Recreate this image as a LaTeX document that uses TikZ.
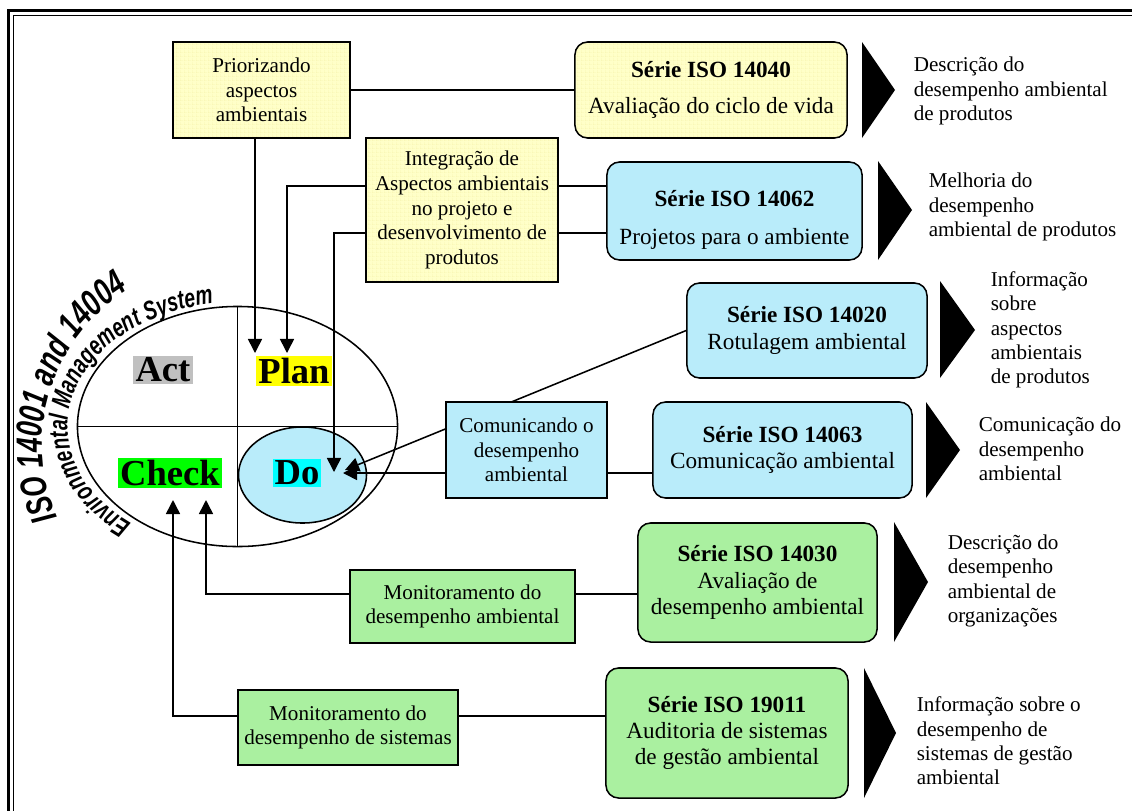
\documentclass[tikz,border=0pt]{standalone}
\usepackage{fontspec}
\setmainfont{Liberation Serif}
\setsansfont{Liberation Sans}
\newfontfamily\titlefont{Liberation Sans}[FakeStretch=0.72]
\usetikzlibrary{arrows.meta, shapes.geometric, positioning, calc,
                decorations.text, patterns.meta}

\definecolor{paleyellow}{RGB}{255,255,200}
\definecolor{gridyellow}{RGB}{236,230,140}
\definecolor{paleblue}{RGB}{185,236,250}
\definecolor{palegreen}{RGB}{170,240,160}
\definecolor{actgray}{RGB}{192,192,192}
\definecolor{planyellow}{RGB}{255,255,0}
\definecolor{checkgreen}{RGB}{0,255,0}
\definecolor{docyan}{RGB}{0,255,255}

\tikzdeclarepattern{
  name=boxgrid, type=uncolored,
  bounding box={(0,0) and (2.85pt,2.85pt)},
  tile size={(2.85pt,2.85pt)},
  code={\draw[line width=0.4pt] (0,0) -- (2.85pt,0) (0,0) -- (0,2.85pt);}
}

\tikzset{
  sqbox/.style={draw, rectangle, inner sep=2pt, align=center,
    font=\fontsize{15}{17.6}\selectfont},
  isobox/.style={sqbox, rounded corners=9pt,
    font=\fontsize{16.5}{18.6}\selectfont},
  yellowfill/.style={preaction={fill=paleyellow}, pattern=boxgrid,
    pattern color=gridyellow},
  infotext/.style={anchor=west, inner sep=0pt, align=left,
    font=\fontsize{15}{17.3}\selectfont},
  pdcalabel/.style={inner sep=1.5pt, font=\fontsize{26}{28}\selectfont\bfseries},
  arr/.style={-{Triangle[length=10pt,width=10pt]}},
}

\begin{document}
\begin{tikzpicture}[x=0.025cm, y=-0.025cm, line width=1.1pt]
  \useasboundingbox (0,0) rectangle (1132,810);
  % double frame
  \draw[line width=1.7pt] (8.5,10.5) rectangle (1145,840);
  \draw[line width=0.9pt] (13.5,15.5) rectangle (1140,840);

  % PDCA circle
  \node[draw, ellipse, inner sep=0, minimum width=8cm, minimum height=6cm]
    (pdca) at (237.5,426.5) {};
  \draw (pdca.north) -- (pdca.south);
  \draw (pdca.west) -- (pdca.east);
  \node[draw, ellipse, fill=paleblue, inner sep=0, minimum width=3.2cm,
    minimum height=2.4cm] (doell) at (302.5,475) {};
  \node[pdcalabel, fill=actgray] (act) at (163,370) {Act};
  \node[pdcalabel, fill=planyellow] (plan) at (294,371) {Plan};
  \node[pdcalabel, fill=checkgreen] (check) at (170,473) {Check};
  \node[pdcalabel, fill=docyan] (do) at (297,473) {Do};

  % curved titles round the circle
  \coordinate (titlec) at (240,445);
  \path[decorate, decoration={text along path, text align=center,
      text={|\titlefont\bfseries\itshape\fontsize{26}{26}\selectfont|ISO 14001 and 14004}}]
    (titlec) ++(154:198 and 188)
    arc[start angle=154, end angle=239, x radius=198, y radius=188];
  \path[decorate, decoration={text along path, text align=center,
      text={|\titlefont\bfseries\itshape\fontsize{19}{19}\selectfont|Environmental Management System}}]
    (pdca.center) ++(124:170 and 124)
    arc[start angle=124, end angle=266, x radius=170, y radius=124];

  % arrow ends
  \coordinate (plantipa) at (255,353);
  \coordinate (plantipb) at (287,353);
  \coordinate (dotipa) at (334,472);
  \coordinate (dotipb) at (343,473);
  \coordinate (dotipc) at (345,470);
  \coordinate (checktipa) at (173,500);
  \coordinate (checktipb) at (206,500);

  % planning boxes
  \node[sqbox, yellowfill, minimum width=4.425cm, minimum height=2.4cm]
    (prio) at (261.5,90) {Priorizando\\aspectos\\ambientais};
  \node[sqbox, yellowfill, minimum width=4.8cm, minimum height=3.6cm]
    (integ) at (462,210) {Integração de\\Aspectos ambientais\\no projeto e\\desenvolvimento de\\produtos};

  % ISO series
  \node[isobox, yellowfill, minimum width=6.8cm, minimum height=2.4cm]
    (iso40) at (711,90) {\textbf{Série ISO 14040}\\[7pt]Avaliação do ciclo de vida};
  \node[isobox, fill=paleblue, minimum width=6.375cm, minimum height=2.45cm]
    (iso62) at (734.5,211) {\rule{0pt}{24pt}\textbf{Série ISO 14062}\\[9pt]Projetos para o ambiente};
  \node[isobox, fill=paleblue, minimum width=6cm, minimum height=2.375cm]
    (iso20) at (807,330.5) {\textbf{Série ISO 14020}\\Rotulagem ambiental};
  \node[isobox, fill=paleblue, minimum width=6.475cm, minimum height=2.4cm]
    (iso63) at (782.5,450) {\textbf{Série ISO 14063}\\Comunicação ambiental};
  \node[isobox, fill=palegreen, minimum width=5.975cm, minimum height=2.975cm]
    (iso30) at (757.5,582.5) {\textbf{Série ISO 14030}\\Avaliação de\\desempenho ambiental};
  \node[isobox, fill=palegreen, minimum width=6.05cm, minimum height=3.25cm]
    (iso11) at (727,733) {\textbf{Série ISO 19011}\\Auditoria de sistemas\\de gestão ambiental};

  % labelling goes to Do, under the communication box
  \draw[arr] (iso20.west) -- (dotipc);
  \node[sqbox, fill=paleblue, minimum width=4.025cm, minimum height=2.4cm]
    (comm) at (526.5,450) {Comunicando o\\desempenho\\ambiental};

  % monitoring boxes
  \node[sqbox, fill=palegreen, minimum width=5.625cm, minimum height=1.825cm]
    (monamb) at (462.5,606.5) {Monitoramento do\\desempenho ambiental};
  \node[sqbox, fill=palegreen, minimum width=5.5cm, minimum height=1.875cm]
    (monsis) at (348,727.5) {Monitoramento do\\desempenho de sistemas};

  % connectors
  \draw (prio) -- (iso40);
  \draw[arr] (prio.south -| plantipa) -- (plantipa);
  \draw[arr] ([yshift=0.6cm]integ.west) -| (plantipb);
  \draw[arr] ([yshift=-0.575cm]integ.west) -| (dotipa);
  \draw ([yshift=0.6cm]integ.east) -- ([yshift=0.6cm]integ.east -| iso62.west);
  \draw ([yshift=-0.575cm]integ.east) -- ([yshift=-0.575cm]integ.east -| iso62.west);
  \draw[arr] ([yshift=-0.575cm]comm.west) -- (dotipb);
  \draw ([yshift=-0.575cm]comm.east) -- ([yshift=-0.575cm]comm.east -| iso63.west);
  \draw[arr] ([yshift=0.3125cm]monamb.west) -| (checktipb);
  \draw ([yshift=0.3125cm]monamb.east) -- ([yshift=0.3125cm]monamb.east -| iso30.west);
  \draw[arr] ([yshift=0.29cm]monsis.west) -| (checktipa);
  \draw ([yshift=0.29cm]monsis.east) -- ([yshift=0.29cm]monsis.east -| iso11.west);

  % result flags
  \fill (862,42) -- (895,90) -- (862,138) -- cycle;
  \fill (878,161) -- (912,210) -- (878,260) -- cycle;
  \fill (940,281) -- (975,330) -- (940,378) -- cycle;
  \fill (926,402) -- (960,450) -- (926,498) -- cycle;
  \fill (894,522) -- (928,582) -- (894,642) -- cycle;
  \fill (864,668) -- (896,733) -- (864,798) -- cycle;

  % results
  \node[infotext] (res40) at (913,91) {Descrição do\\desempenho ambiental\\de produtos};
  \node[infotext] (res62) at (928,207) {Melhoria do\\desempenho\\ambiental de produtos};
  \node[infotext] (res20) at (990,330) {Informação\\sobre\\aspectos\\ambientais\\de produtos};
  \node[infotext] (res63) at (978,449) {Comunicação do\\desempenho\\ambiental};
  \node[infotext] (res30) at (947,581) {Descrição do\\desempenho\\ambiental de\\organizações};
  \node[infotext] (res11) at (916,741) {Informação sobre o\\desempenho de\\sistemas de gestão\\ambiental};
\end{tikzpicture}
\end{document}
